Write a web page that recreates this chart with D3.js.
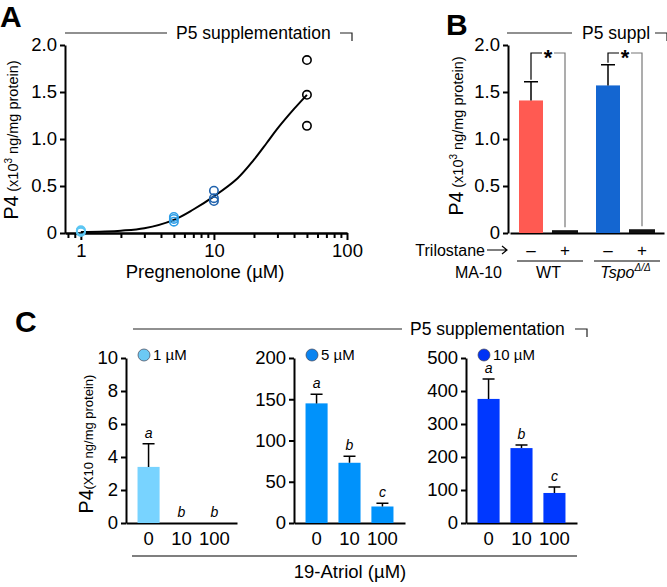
<!DOCTYPE html>
<html>
<head>
<meta charset="utf-8">
<script src="https://cdn.jsdelivr.net/npm/d3@7"></script>
<style>
  body { margin: 0; background: #fff; }
  svg { font-family: "Liberation Sans", Arial, sans-serif; }
  .axis path, .axis line { stroke: #000; stroke-width: 2; }
  .axis text { font-size: 18.5px; fill: #000; }
</style>
</head>
<body>
<svg id="fig" width="667" height="587"></svg>
<script>
// ---- data: panel A (dose response) ----
const pregDoses = [1, 5, 10, 50]
const pregReplicates = [
  [0.02, 0.01, 0.03],
  [0.17, 0.15, 0.12],
  [0.45, 0.37, 0.34],
  [1.84, 1.47, 1.14],
]
const fitDoses = [1, 2, 3, 5, 7, 10, 15, 20, 25, 30, 40, 50]
const fitValues = [0.01, 0.025, 0.05, 0.14, 0.25, 0.39, 0.58, 0.78, 0.96, 1.11, 1.32, 1.47]
const p4Ticks = [0, 0.5, 1, 1.5, 2]
const p4TickLabels = ["0", "0.5", "1.0", "1.5", "2.0"]
const doseTickLabels = [1, 10, 100]

// ---- data: panel B (trilostane) ----
const genotypes = ["WT", "Tspo"]
const trilostane = ["\u2013", "+"]
const p4Means = [[1.41, 0.03], [1.57, 0.04]]
const p4Errors = [[0.2, 0.005], [0.22, 0.008]]

// ---- data: panel C (19-atriol) ----
const p5Levels = ["1 \u00b5M", "5 \u00b5M", "10 \u00b5M"]
const atriolDoses = ["0", "10", "100"]
const atriolMeans = [[3.4, 0, 0], [145, 73, 20], [376, 227, 91]]
const atriolErrors = [[1.4, 0, 0], [11, 8, 4], [60, 9, 18]]
const atriolLetters = [["a", "b", "b"], ["a", "b", "c"], ["a", "b", "c"]]
const atriolMax = [10, 200, 500]
const atriolTicks = [[0, 2, 4, 6, 8, 10], [0, 50, 100, 150, 200], [0, 100, 200, 300, 400, 500]]

const pregColors = ["#5cc6f3", "#2d9de6", "#1f62ad", "#000"]
const atriolColors = ["#78d3ff", "#0092fb", "#0038ff"]
const legendColors = ["#6cc9f4", "#0a84f0", "#0033f5"]

const svg = d3.select("#fig")
svg.append("rect").attr("width", 667).attr("height", 587).attr("fill", "#fff")

const panelLetter = (txt, x, y) =>
  svg.append("text").text(txt).attr("x", x).attr("y", y)
    .attr("font-size", 30).attr("font-weight", "bold")

const header = (x0, x1, tx, txt, bx, y) => {
  svg.append("line").attr("x1", x0).attr("x2", x1).attr("y1", y).attr("y2", y)
    .attr("stroke", "#222").attr("stroke-width", 1.2)
  svg.append("text").text(txt).attr("x", tx).attr("y", y + 6).attr("font-size", 17.5)
  svg.append("path").attr("d", `M${bx},${y}H${bx + 12}V${y + 8}`)
    .attr("fill", "none").attr("stroke", "#222").attr("stroke-width", 1.2)
}

const yLabel = (x, y, big, small, sup, rest, smallSize) => {
  const t = svg.append("text")
    .attr("transform", `translate(${x},${y}) rotate(-90)`)
    .attr("text-anchor", "middle")
  t.append("tspan").text(big).attr("font-size", 19.5)
  t.append("tspan").text(small).attr("font-size", smallSize)
  if (sup) t.append("tspan").text(sup).attr("font-size", 10).attr("dy", -6)
  t.append("tspan").text(rest).attr("font-size", smallSize).attr("dy", sup ? 6 : 0)
}

/*
  Panel A
*/
panelLetter("A", 0, 27)
header(65, 167, 176, "P5 supplementation", 340, 33)

const xA = d3.scaleLog().domain([0.76, 100]).range([65, 347])
const yA = d3.scaleLinear().domain([0, 2]).range([233, 45])

const minorA = [0.8, 0.9, 2, 3, 4, 5, 6, 7, 8, 9, 20, 30, 40, 50, 60, 70, 80, 90]
svg.append("g").attr("class", "axis").attr("transform", "translate(0,233)")
  .call(d3.axisBottom(xA).tickValues(minorA).tickSize(5).tickSizeOuter(0).tickFormat(""))
svg.append("g").attr("class", "axis").attr("transform", "translate(0,233)")
  .call(d3.axisBottom(xA).tickValues(doseTickLabels).tickSize(7).tickSizeOuter(0)
    .tickFormat(d3.format("d")).tickPadding(4))
svg.append("g").attr("class", "axis").attr("transform", "translate(65,0)")
  .call(d3.axisLeft(yA).tickValues(p4Ticks).tickSize(5).tickSizeOuter(0)
    .tickFormat((d, i) => p4TickLabels[i]))

const fitLine = d3.line()
  .x((d) => xA(d[0]))
  .y((d) => yA(d[1]))
  .curve(d3.curveCatmullRom)
svg.append("path")
  .datum(fitDoses.map((d, i) => [d, fitValues[i]]))
  .attr("d", fitLine)
  .attr("fill", "none").attr("stroke", "#000").attr("stroke-width", 2)

pregDoses.forEach((dose, i) => {
  svg.append("g").selectAll("circle")
    .data(pregReplicates[i])
    .enter()
    .append("circle")
    .attr("cx", xA(dose))
    .attr("cy", (v) => yA(v))
    .attr("r", 4.2)
    .attr("fill", "none")
    .attr("stroke", pregColors[i])
    .attr("stroke-width", 1.6)
})

svg.append("text").text("Pregnenolone (\u00b5M)")
  .attr("x", 205).attr("y", 278).attr("text-anchor", "middle").attr("font-size", 18.5)
yLabel(18, 140, "P4", " (x10", "3", " ng/mg protein)", 14.5)

/*
  Panel B
*/
panelLetter("B", 446, 35)
header(507, 572, 582, "P5 suppl", 655, 33)

const yB = d3.scaleLinear().domain([0, 2]).range([233, 45])
const xGroup = d3.scaleBand().domain(genotypes).range([510, 664])
const xTreat = d3.scalePoint().domain(trilostane).range([21, 55])
const barColorsB = [["#ff5a52", "#111"], ["#1466d1", "#111"]]

svg.append("g").attr("class", "axis").attr("transform", "translate(0,233)")
  .call(d3.axisBottom(xGroup).tickValues([]).tickSizeOuter(0))
svg.append("g").attr("class", "axis").attr("transform", "translate(508,0)")
  .call(d3.axisLeft(yB).tickValues(p4Ticks).tickSize(5).tickSizeOuter(0)
    .tickFormat((d, i) => p4TickLabels[i]))

genotypes.forEach((g, gi) => {
  trilostane.forEach((t, ti) => {
    const cx = xGroup(g) + xTreat(t)
    const v = p4Means[gi][ti]
    const e = p4Errors[gi][ti]
    const w = ti === 0 ? 24 : 26
    svg.append("rect")
      .attr("x", cx - w / 2).attr("width", w)
      .attr("y", yB(v)).attr("height", yB(0) - yB(v))
      .attr("fill", barColorsB[gi][ti])
    if (ti === 0) {
      svg.append("path")
        .attr("d", `M${cx},${yB(v)}V${yB(v + e)}M${cx - 7},${yB(v + e)}H${cx + 7}`)
        .attr("stroke", "#000").attr("stroke-width", 1.5)
    }
    svg.append("text").text(t)
      .attr("x", cx).attr("y", 256).attr("text-anchor", "middle").attr("font-size", 17)
  })
  // significance bracket
  const xl = xGroup(g) + xTreat(trilostane[0])
  const xr = xGroup(g) + xTreat(trilostane[1])
  const top = yB(p4Means[gi][0] + p4Errors[gi][0]) - 2
  const yb = 53
  svg.append("path").attr("d", `M${xl},${top}V${yb}H${(xl + xr) / 2}`)
    .attr("fill", "none").attr("stroke", "#000").attr("stroke-width", 1.2)
  svg.append("path").attr("d", `M${(xl + xr) / 2},${yb}H${xr}V${yB(p4Means[gi][1]) - 3}`)
    .attr("fill", "none").attr("stroke", "#777").attr("stroke-width", 1.2)
  svg.append("rect").attr("x", (xl + xr) / 2 - 6).attr("y", yb - 3).attr("width", 12).attr("height", 6)
    .attr("fill", "#fff")
  svg.append("text").text("*").attr("x", (xl + xr) / 2).attr("y", 65)
    .attr("text-anchor", "middle").attr("font-size", 22).attr("font-weight", "bold")
  // group underline
  svg.append("line")
    .attr("x1", xGroup(g) + 7).attr("x2", xGroup(g) + xGroup.bandwidth() - 4)
    .attr("y1", 261).attr("y2", 261).attr("stroke", "#000").attr("stroke-width", 1)
})

svg.append("text").text("Trilostane").attr("x", 485).attr("y", 256)
  .attr("text-anchor", "end").attr("font-size", 16)
svg.append("path").attr("d", "M487,250H507M502,246L507,250L502,254")
  .attr("fill", "none").attr("stroke", "#000").attr("stroke-width", 1.2)
svg.append("text").text("MA-10").attr("x", 502).attr("y", 278)
  .attr("text-anchor", "end").attr("font-size", 16)
svg.append("text").text("WT").attr("x", xGroup("WT") + xGroup.bandwidth() / 2)
  .attr("y", 278).attr("text-anchor", "middle").attr("font-size", 16)
const tspo = svg.append("text").attr("x", xGroup("Tspo") + xGroup.bandwidth() / 2)
  .attr("y", 278).attr("text-anchor", "middle").attr("font-style", "italic")
tspo.append("tspan").text("Tspo").attr("font-size", 16)
tspo.append("tspan").text("\u0394/\u0394").attr("font-size", 10).attr("dy", -7)

yLabel(463, 136, "P4", " (x10", "3", " ng/mg protein)", 14.5)

/*
  Panel C
*/
panelLetter("C", 15, 332)
header(133, 402, 410, "P5 supplementation", 575, 329)

const cAxisX = [126, 294, 466]
const xC = d3.scaleBand().domain(atriolDoses).range([0, 111])
  .paddingInner(0.33).paddingOuter(0.35)

p5Levels.forEach((lvl, pi) => {
  const g = svg.append("g").attr("transform", `translate(${cAxisX[pi]},0)`)
  const y = d3.scaleLinear().domain([0, atriolMax[pi]]).range([523, 358])

  g.append("g").attr("class", "axis").attr("transform", "translate(0,523)")
    .call(d3.axisBottom(xC).tickSize(0).tickSizeOuter(0).tickPadding(9))
    .selectAll("text").attr("font-size", 19.5)
  g.append("g").attr("class", "axis")
    .call(d3.axisLeft(y).tickValues(atriolTicks[pi]).tickSize(5).tickSizeOuter(0))

  atriolDoses.forEach((d, di) => {
    const v = atriolMeans[pi][di]
    const e = atriolErrors[pi][di]
    const cx = xC(d) + xC.bandwidth() / 2
    g.append("rect")
      .attr("x", xC(d)).attr("width", xC.bandwidth())
      .attr("y", y(v)).attr("height", y(0) - y(v))
      .attr("fill", atriolColors[pi])
    if (e > 0) {
      g.append("path")
        .attr("d", `M${cx},${y(v)}V${y(v + e)}M${cx - 6},${y(v + e)}H${cx + 6}`)
        .attr("stroke", "#000").attr("stroke-width", 1.5)
    }
    g.append("text").text(atriolLetters[pi][di])
      .attr("x", cx).attr("y", y(v + e) - 6)
      .attr("text-anchor", "middle").attr("font-size", 14).attr("font-style", "italic")
  })

  g.append("circle").attr("cx", 18).attr("cy", 355).attr("r", 6)
    .attr("fill", legendColors[pi]).attr("stroke", "#445").attr("stroke-width", 0.7)
  g.append("text").text(lvl).attr("x", 27).attr("y", 360).attr("font-size", 15)
})

svg.append("line").attr("x1", 132).attr("x2", 577).attr("y1", 556).attr("y2", 556)
  .attr("stroke", "#555").attr("stroke-width", 1.5)
svg.append("text").text("19-Atriol (\u00b5M)").attr("x", 350).attr("y", 578)
  .attr("text-anchor", "middle").attr("font-size", 18.5)

yLabel(93, 444, "P4", "(X10 ng/mg protein)", null, "", 13)
</script>
</body>
</html>
